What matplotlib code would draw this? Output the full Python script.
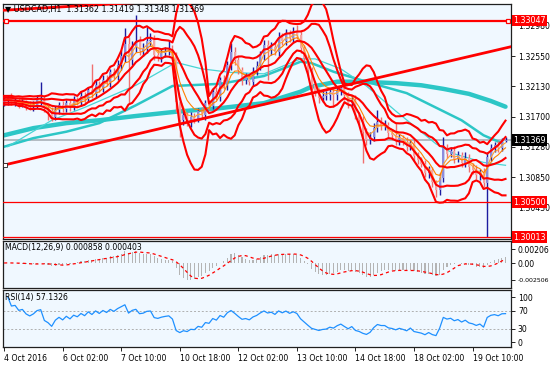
import numpy as np
import pandas as pd
import matplotlib
matplotlib.use("Agg")
import matplotlib.pyplot as plt
import matplotlib as mpl

mpl.rc("font", family="DejaVu Sans", size=5.6)

# ----- data (prices in pips, 1.3193 -> 13193), 2h bars -----
first_open = 13190
closes_pips = [
    13193, 13196, 13190, 13192, 13188, 13190, 13186, 13184, 13187, 13193,
    13195, 13182, 13178, 13170, 13180, 13186, 13181, 13189, 13184, 13193,
    13190, 13199, 13195, 13207, 13202, 13215, 13210, 13222, 13218, 13232,
    13228, 13242, 13255, 13272, 13250, 13268, 13276, 13262, 13265, 13276,
    13278, 13257, 13254, 13259, 13262, 13264, 13255, 13190, 13165, 13172,
    13162, 13170, 13167, 13178, 13172, 13189, 13185, 13205, 13198, 13221,
    13214, 13242, 13260, 13249, 13235, 13221, 13225, 13219, 13233, 13241,
    13256, 13270, 13263, 13268, 13261, 13282, 13276, 13287, 13280, 13289,
    13284, 13266, 13252, 13235, 13214, 13205, 13196, 13199, 13200, 13205,
    13200, 13206, 13210, 13200, 13189, 13194, 13172, 13165, 13149, 13137,
    13142, 13154, 13163, 13158, 13158, 13147, 13144, 13137, 13140, 13135,
    13128, 13133, 13115, 13110, 13104, 13091, 13095, 13078, 13067, 13084,
    13126, 13118, 13122, 13111, 13116, 13105, 13112, 13100, 13096, 13088,
    13092, 13077, 13114, 13126, 13130, 13126, 13136.2, 13136.9,
]
upper_wick = [
    6, 5, 7, 4, 6, 5, 4, 6, 5, 7,
    23, 5, 4, 6, 5, 4, 6, 5, 4, 6,
    5, 7, 6, 5, 37, 6, 5, 7, 6, 5,
    6, 7, 8, 22, 9, 8, 36, 7, 8, 20,
    9, 6, 7, 6, 5, 13, 6, 5, 8, 6,
    5, 6, 5, 4, 6, 5, 4, 5, 6, 5,
    7, 6, 13, 8, 6, 5, 6, 5, 6, 7,
    6, 8, 7, 6, 7, 6, 5, 6, 5, 6,
    9, 6, 5, 6, 5, 6, 5, 7, 6, 5,
    6, 7, 5, 6, 5, 6, 7, 5, 6, 5,
    6, 7, 16, 6, 8, 5, 6, 17, 6, 5,
    6, 5, 6, 5, 4, 5, 6, 5, 4, 7,
    16, 6, 5, 7, 6, 5, 8, 6, 5, 6,
    5, 6, 7, 6, 5, 6, 4, 5,
]
lower_wick = [
    5, 6, 4, 5, 6, 5, 7, 5, 6, 5,
    6, 5, 13, 6, 5, 6, 4, 5, 6, 5,
    4, 5, 6, 5, 6, 4, 5, 6, 5, 6,
    5, 6, 7, 8, 61, 7, 8, 6, 7, 6,
    7, 8, 6, 7, 6, 5, 6, 14, 23, 6,
    5, 7, 6, 5, 4, 6, 5, 4, 5, 6,
    5, 6, 7, 6, 5, 6, 5, 4, 6, 5,
    6, 7, 42, 6, 5, 6, 5, 6, 5, 6,
    5, 7, 6, 8, 7, 6, 7, 6, 5, 6,
    17, 6, 5, 6, 7, 6, 5, 6, 44, 6,
    5, 6, 5, 7, 6, 5, 6, 7, 6, 5,
    6, 5, 7, 6, 5, 6, 7, 6, 9, 6,
    5, 6, 5, 6, 5, 6, 5, 7, 6, 5,
    6, 5, 75.7, 6, 5, 6, 4, 1.4,
]

# moving averages (bar index, pips)
thick_idx = [0, 8, 17, 26, 36, 47, 59, 71, 81, 84, 91, 97, 107, 114, 120, 127, 133, 137]
thick_px = [13144, 13154, 13161, 13165, 13171, 13177, 13182, 13189, 13205, 13212,
            13219, 13219, 13217, 13214, 13209, 13202, 13192, 13184]
medium_idx = [0, 8, 17, 26, 36, 46, 59, 71, 81, 84, 90, 99, 110, 125, 131, 136]
medium_px = [13128, 13140, 13149, 13161, 13186, 13213, 13216, 13227, 13247, 13245,
             13233, 13219, 13203, 13165, 13144, 13133]
thin_idx = [1, 13, 22, 36, 47, 54, 62, 71, 81, 85, 92, 99, 107, 118, 123, 131, 137]
thin_px = [13128, 13165, 13183, 13214, 13246, 13237, 13232, 13230, 13251, 13251,
           13237, 13213, 13178, 13132, 13118, 13106, 13102]

# trend lines (bar index, pips)
trend_idx = [-0.3, 138.5]
trend_px = [13102, 13268]
top_line_idx = [-0.3, 40]
top_line_px = [13319, 13331]

levels = {"1.33047": 1.33047, "1.30500": 1.30500, "1.30013": 1.30013}
bid = 1.31369

time_labels = ["4 Oct 2016", "6 Oct 02:00", "7 Oct 10:00", "10 Oct 18:00", "12 Oct 02:00",
               "13 Oct 10:00", "14 Oct 18:00", "18 Oct 02:00", "19 Oct 10:00"]
time_bars = [0, 16, 32, 48, 64, 80, 96, 112, 128]

price_ticks = [1.32980, 1.32550, 1.32130, 1.31700, 1.31280, 1.30850, 1.30430]

# ----- build series -----
c = np.array(closes_pips, dtype=float) / 1e4
o = np.r_[first_open / 1e4, c[:-1]]
hi = np.maximum(o, c) + np.array(upper_wick) / 1e4
lo = np.minimum(o, c) - np.array(lower_wick) / 1e4
idx = np.arange(len(c))
s = pd.Series(c)

# bars are 2h here, so indicator periods are halved to match the H1 settings
ema_fast = s.ewm(span=3, adjust=False).mean()
ema_slow = s.ewm(span=6, adjust=False).mean()
bb_mid = s.rolling(10, min_periods=3).mean().bfill()
bb_sd = s.rolling(10, min_periods=3).std(ddof=0).bfill()

macd = s.ewm(span=6, adjust=False).mean() - s.ewm(span=13, adjust=False).mean()
signal = macd.rolling(5, min_periods=1).mean()

delta = s.diff()
gain = delta.clip(lower=0).ewm(alpha=1 / 9, adjust=False).mean()
loss = (-delta.clip(upper=0)).ewm(alpha=1 / 9, adjust=False).mean()
rsi = 100 - 100 / (1 + gain / loss)

# ----- figure -----
W, H = 550, 367
fig = plt.figure(figsize=(W / 100, H / 100), dpi=100)
fig.patch.set_facecolor("white")
bg = "#f0f8ff"


def px_axes(x0, y0, x1, y1):
    return fig.add_axes([x0 / W, 1 - y1 / H, (x1 - x0) / W, (y1 - y0) / H])


ax = px_axes(3, 4, 511, 239)
ax_m = px_axes(3, 241, 511, 288)
ax_r = px_axes(3, 290, 511, 347)

xlim = (-0.3, 138.5)
for a in (ax, ax_m, ax_r):
    a.set_facecolor(bg)
    a.set_xlim(xlim)
    a.yaxis.tick_right()
    a.tick_params(axis="y", direction="out", length=3, pad=2, labelsize=5.6, width=0.6)
    a.tick_params(axis="x", bottom=False, labelbottom=False)
    for sp in a.spines.values():
        sp.set_linewidth(0.9)
        sp.set_color("#202020")

# main panel
ax.set_ylim(1.29988, 1.33278)
ax.set_yticks(price_ticks)
ax.set_yticklabels([f"{v:.5f}" for v in price_ticks])

ax.plot(thick_idx, np.array(thick_px) / 1e4, color="#2cc6c6", lw=3.2, solid_capstyle="round", zorder=2)
ax.plot(medium_idx, np.array(medium_px) / 1e4, color="#2cc6c6", lw=1.8, zorder=2)
ax.plot(thin_idx, np.array(thin_px) / 1e4, color="#48d4d4", lw=0.9, zorder=2)

up = c >= o
dn = ~up
ax.vlines(idx[dn], lo[dn], hi[dn], color="#f07070", lw=1.0, zorder=3)
ax.bar(idx[dn], (o - c)[dn], bottom=c[dn], width=0.55, color="#f4a4a4", zorder=3)
ax.vlines(idx[up], lo[up], hi[up], color="#1c1ca0", lw=1.0, zorder=4)
ax.bar(idx[up], (c - o)[up], bottom=o[up], width=0.55, color="#8c8cdc", zorder=4)

ax.plot(idx, ema_fast, color="#ffa030", lw=0.8, zorder=5)
ax.plot(idx, ema_slow, color="#ff8000", lw=0.8, zorder=5)

for k in (2.5, 1.4, 0, -1.4, -2.5):
    ax.plot(idx, bb_mid + k * bb_sd, color="#ff0000", lw=1.5, zorder=5)

ax.plot(trend_idx, np.array(trend_px) / 1e4, color="#ff0000", lw=2, zorder=6)
ax.plot([trend_idx[0] + 0.5], [trend_px[0] / 1e4], marker="s", ms=3, mfc="white",
        mec="#202020", mew=0.6, zorder=7, clip_on=False)
ax.plot(top_line_idx, np.array(top_line_px) / 1e4, color="#ff0000", lw=2, zorder=6)

ax.axhline(levels["1.33047"], color="#ff0000", lw=1.6, zorder=6)
ax.plot([0.4, 137.7], [levels["1.33047"]] * 2, ls="none", marker="s", ms=3.2,
        mfc="white", mec="#ff0000", mew=0.9, zorder=7)
ax.axhline(levels["1.30500"], color="#ff0000", lw=0.9, zorder=6)
ax.axhline(levels["1.30013"], color="#ff0000", lw=0.9, zorder=6)
ax.axhline(bid, color="#a8b0b8", lw=1.2, zorder=1)

box = dict(boxstyle="square,pad=0.18", ec="none")
for name, val in levels.items():
    ax.text(1.004, val, name, transform=ax.get_yaxis_transform(), ha="left", va="center",
            color="white", fontsize=5.8, bbox=dict(box, fc="#ff0000"), zorder=10, clip_on=False)
ax.text(1.004, bid, f"{bid:.5f}", transform=ax.get_yaxis_transform(), ha="left", va="center",
        color="white", fontsize=5.8, bbox=dict(box, fc="#000000"), zorder=10, clip_on=False)

ax.text(0.004, 0.975, "\u25bc USDCAD,H1  1.31362 1.31419 1.31348 1.31369", transform=ax.transAxes,
        ha="left", va="center", fontsize=5.8, color="#000000", zorder=11)

# MACD panel
ax_m.bar(idx, macd, width=0.3, color="#b4b4b4", zorder=2)
ax_m.plot(idx, signal, color="#ff0000", lw=0.9, ls=(0, (2.5, 2.5)), zorder=3)
ax_m.set_ylim(-0.00368, 0.00324)
ax_m.set_yticks([0.00206, 0.0, -0.002506])
ax_m.set_yticklabels(["0.00206", "0.00", "-0.002506"])
ax_m.get_yticklabels()[2].set_fontsize(4.5)
ax_m.text(0.004, 0.86, "MACD(12,26,9) 0.000858 0.000403", transform=ax_m.transAxes,
          ha="left", va="center", fontsize=5.6, zorder=5)

# RSI panel
ax_r.plot(idx, rsi, color="#1e90ff", lw=0.9, zorder=3)
for lv in (70, 30):
    ax_r.axhline(lv, color="#b0b0b0", lw=0.7, ls=(0, (2, 2)), zorder=1)
ax_r.set_ylim(-11, 115.6)
ax_r.set_yticks([100, 70, 30, 0])
ax_r.text(0.004, 0.87, "RSI(14) 57.1326", transform=ax_r.transAxes,
          ha="left", va="center", fontsize=5.6, zorder=5)

ax_r.set_xticks(time_bars)
ax_r.set_xticklabels(time_labels)
ax_r.tick_params(axis="x", bottom=True, labelbottom=True, direction="out", length=3,
                 width=0.6, pad=2, labelsize=5.6)
for lbl in ax_r.get_xticklabels():
    lbl.set_horizontalalignment("left")

fig.savefig("out.png", dpi=100, facecolor="white")
